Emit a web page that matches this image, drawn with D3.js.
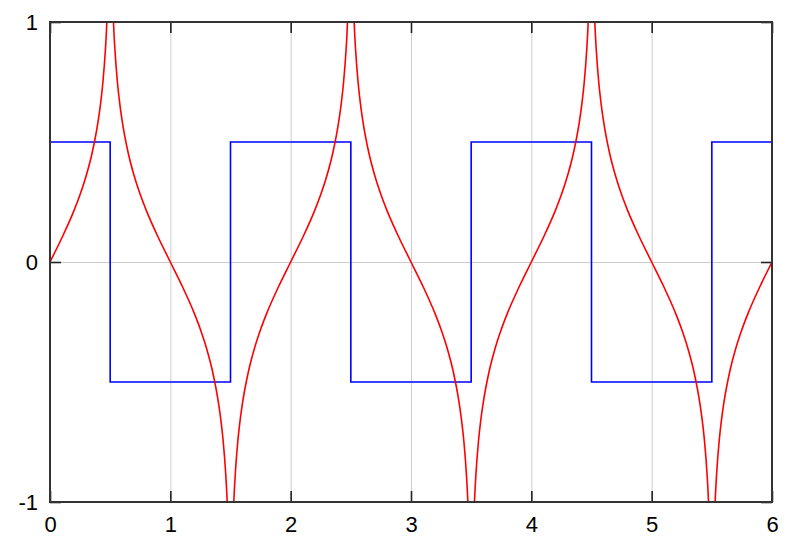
<!DOCTYPE html>
<html>
<head>
<meta charset="utf-8">
<script src="https://cdn.jsdelivr.net/npm/d3@7"></script>
<style>
  body { margin: 0; background: #fff; }
  svg { display: block; font-family: "Liberation Sans", Arial, sans-serif; }
</style>
</head>
<body>
<svg id="chart" width="800" height="550"></svg>
<script>
// tick values
const xTicks = [0, 1, 2, 3, 4, 5, 6];
const yTicks = [-1, 0, 1];

// blue square wave: breakpoints and level after each breakpoint
const blueX = [0, 0.5, 1.5, 2.5, 3.5, 4.5, 5.5, 6];
const blueY = [0.5, -0.5, 0.5, -0.5, 0.5, -0.5, 0.5, 0.5];

// red curve, one array per branch between the spikes
const redX = [
  [0, 0.1, 0.2, 0.25, 0.3, 0.35, 0.4, 0.42, 0.44, 0.46, 0.47, 0.48, 0.49],
  [0.51, 0.52, 0.53, 0.54, 0.56, 0.58, 0.6, 0.65, 0.7, 0.75, 0.8, 0.9, 1, 1.1, 1.2, 1.25, 1.3, 1.35, 1.4, 1.42, 1.44, 1.46, 1.47, 1.48, 1.49],
  [1.51, 1.52, 1.53, 1.54, 1.56, 1.58, 1.6, 1.65, 1.7, 1.75, 1.8, 1.9, 2, 2.1, 2.2, 2.25, 2.3, 2.35, 2.4, 2.42, 2.44, 2.46, 2.47, 2.48, 2.49],
  [2.51, 2.52, 2.53, 2.54, 2.56, 2.58, 2.6, 2.65, 2.7, 2.75, 2.8, 2.9, 3, 3.1, 3.2, 3.25, 3.3, 3.35, 3.4, 3.42, 3.44, 3.46, 3.47, 3.48, 3.49],
  [3.51, 3.52, 3.53, 3.54, 3.56, 3.58, 3.6, 3.65, 3.7, 3.75, 3.8, 3.9, 4, 4.1, 4.2, 4.25, 4.3, 4.35, 4.4, 4.42, 4.44, 4.46, 4.47, 4.48, 4.49],
  [4.51, 4.52, 4.53, 4.54, 4.56, 4.58, 4.6, 4.65, 4.7, 4.75, 4.8, 4.9, 5, 5.1, 5.2, 5.25, 5.3, 5.35, 5.4, 5.42, 5.44, 5.46, 5.47, 5.48, 5.49],
  [5.51, 5.52, 5.53, 5.54, 5.56, 5.58, 5.6, 5.65, 5.7, 5.75, 5.8, 5.9, 6],
];
const redY = [
  [0, 0.102, 0.215, 0.281, 0.358, 0.454, 0.587, 0.659, 0.751, 0.881, 0.972, 1.101, 1.322],
  [1.322, 1.101, 0.972, 0.881, 0.751, 0.659, 0.587, 0.454, 0.358, 0.281, 0.215, 0.102, 0, -0.102, -0.215, -0.281, -0.358, -0.454, -0.587, -0.659, -0.751, -0.881, -0.972, -1.101, -1.322],
  [-1.322, -1.101, -0.972, -0.881, -0.751, -0.659, -0.587, -0.454, -0.358, -0.281, -0.215, -0.102, 0, 0.102, 0.215, 0.281, 0.358, 0.454, 0.587, 0.659, 0.751, 0.881, 0.972, 1.101, 1.322],
  [1.322, 1.101, 0.972, 0.881, 0.751, 0.659, 0.587, 0.454, 0.358, 0.281, 0.215, 0.102, 0, -0.102, -0.215, -0.281, -0.358, -0.454, -0.587, -0.659, -0.751, -0.881, -0.972, -1.101, -1.322],
  [-1.322, -1.101, -0.972, -0.881, -0.751, -0.659, -0.587, -0.454, -0.358, -0.281, -0.215, -0.102, 0, 0.102, 0.215, 0.281, 0.358, 0.454, 0.587, 0.659, 0.751, 0.881, 0.972, 1.101, 1.322],
  [1.322, 1.101, 0.972, 0.881, 0.751, 0.659, 0.587, 0.454, 0.358, 0.281, 0.215, 0.102, 0, -0.102, -0.215, -0.281, -0.358, -0.454, -0.587, -0.659, -0.751, -0.881, -0.972, -1.101, -1.322],
  [-1.322, -1.101, -0.972, -0.881, -0.751, -0.659, -0.587, -0.454, -0.358, -0.281, -0.215, -0.102, 0],
];

const svg = d3.select("#chart");
const width = +svg.attr("width");
const height = +svg.attr("height");
const margin = { top: 22, right: 28, bottom: 48, left: 50 };
const innerW = width - margin.left - margin.right;
const innerH = height - margin.top - margin.bottom;

const x = d3.scaleLinear().domain([0, 6]).range([0, innerW]);
const y = d3.scaleLinear().domain([-1, 1]).range([innerH, 0]);
const tickText = (d) => String(d);

const g = svg.append("g")
  .attr("transform", `translate(${margin.left}, ${margin.top})`);

g.append("defs").append("clipPath")
  .attr("id", "plot-clip")
  .append("rect")
  .attr("width", innerW)
  .attr("height", innerH);

// grid
const gridX = g.append("g")
  .attr("transform", `translate(0, ${innerH})`)
  .call(d3.axisBottom(x).tickValues(xTicks.slice(1, -1)).tickSize(-innerH).tickFormat(""));
const gridY = g.append("g")
  .call(d3.axisLeft(y).tickValues([0]).tickSize(-innerW).tickFormat(""));
[gridX, gridY].forEach((a) => {
  a.select(".domain").remove();
  a.selectAll("line").attr("stroke", "#cccccc").attr("stroke-width", 1);
});

const plot = g.append("g").attr("clip-path", "url(#plot-clip)");

// blue step line
const blueLine = d3.line()
  .x((d) => x(d[0]))
  .y((d) => y(d[1]))
  .curve(d3.curveStepAfter);

plot.append("path")
  .datum(blueX.map((v, i) => [v, blueY[i]]))
  .attr("d", blueLine)
  .attr("fill", "none")
  .attr("stroke", "#0000ff")
  .attr("stroke-width", 1.6);

// red branches
const redLine = d3.line()
  .x((d) => x(d[0]))
  .y((d) => y(d[1]))
  .curve(d3.curveMonotoneX);

plot.selectAll(".red")
  .data(redX.map((xs, i) => xs.map((v, j) => [v, redY[i][j]])))
  .join("path")
  .attr("class", "red")
  .attr("d", redLine)
  .attr("fill", "none")
  .attr("stroke", "#ff0000")
  .attr("stroke-width", 1.6);

// axes with inward ticks
const xAxis = g.append("g")
  .attr("transform", `translate(0, ${innerH})`)
  .call(d3.axisBottom(x).tickValues(xTicks).tickFormat(tickText)
    .tickSizeInner(-11).tickSizeOuter(0).tickPadding(14.5));
const yAxis = g.append("g")
  .call(d3.axisLeft(y).tickValues(yTicks).tickFormat(tickText)
    .tickSizeInner(-11).tickSizeOuter(0).tickPadding(12));

[xAxis, yAxis].forEach((a) => {
  a.select(".domain").remove();
  a.selectAll("line").attr("stroke", "#222").attr("stroke-width", 1.6);
  a.selectAll("text")
    .attr("fill", "#000")
    .style("font-size", "22px")
    .style("font-family", "'Liberation Sans', Arial, sans-serif");
});

// right / top ticks
g.append("g")
  .attr("transform", `translate(${innerW}, 0)`)
  .call(d3.axisRight(y).tickValues(yTicks).tickSizeInner(-11).tickSizeOuter(0).tickFormat(""))
  .call((a) => a.select(".domain").remove())
  .selectAll("line").attr("stroke", "#222").attr("stroke-width", 1.6);
g.append("g")
  .call(d3.axisTop(x).tickValues(xTicks).tickSizeInner(-11).tickSizeOuter(0).tickFormat(""))
  .call((a) => a.select(".domain").remove())
  .selectAll("line").attr("stroke", "#222").attr("stroke-width", 1.6);

// frame
g.append("rect")
  .attr("width", innerW)
  .attr("height", innerH)
  .attr("fill", "none")
  .attr("stroke", "#333")
  .attr("stroke-width", 2);
</script>
</body>
</html>
